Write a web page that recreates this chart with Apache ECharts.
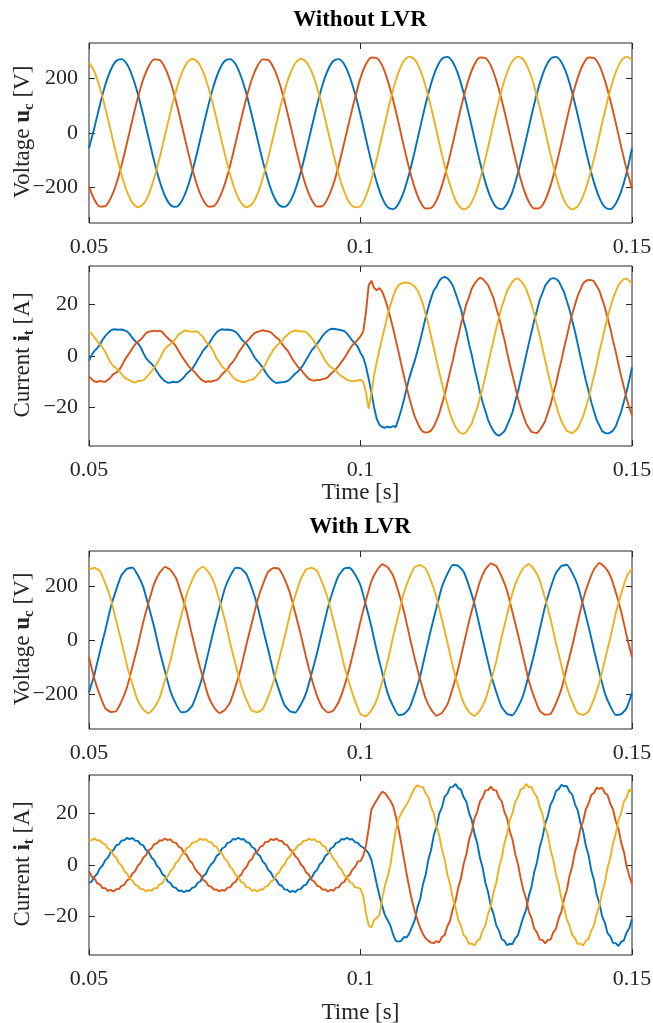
<!DOCTYPE html>
<html><head><meta charset="utf-8">
<script src="https://cdn.jsdelivr.net/npm/echarts@6/dist/echarts.min.js"></script>
<style>html,body{margin:0;padding:0;background:#fff}#c{width:653px;height:1023px}</style>
</head><body><div id="c"></div><script>
// ---------- data ----------
const T_START = 0.05, T_END = 0.15;
const STEP_V = 0.001;   // voltage samples every 1 ms
const STEP_I = 0.0005;  // current samples every 0.5 ms
const xTicks = [0.05, 0.1, 0.15];
const vTicks = [-200, 0, 200];
const iTicks = [-20, 0, 20];
const titles = ['Without LVR', 'With LVR'];

// Panel 1: voltage u_c without LVR [V]
const uNo_a = [-56,20,103,176,231,264,271,252,207,143,64,-20,-103,-176,-231,-264,-271,-252,-207,-143,
 -64,20,103,176,231,264,271,252,207,143,64,-20,-103,-176,-231,-264,-271,-252,-207,-143,
 -64,20,103,176,231,264,271,252,207,143,
 66,-21,-106,-181,-238,-272,-279,-259,-214,-147,
 -66,21,106,181,238,272,279,259,214,147,66,-21,-106,-181,-238,-272,-279,-259,-214,-147,
 -66,21,106,181,238,272,279,259,214,147,66,-21,-106,-181,-238,-272,-279,-259,-214,-147,
 -56];
const uNo_b = [-197,-245,-270,-268,-239,-188,-118,-36,49,129,197,245,270,268,239,188,118,36,-49,-129,
 -197,-245,-270,-268,-239,-188,-118,-36,49,129,197,245,270,268,239,188,118,36,-49,-129,
 -197,-245,-270,-268,-239,-188,-118,-36,49,129,
 202,252,277,275,247,193,121,38,-50,-133,
 -202,-252,-277,-275,-247,-193,-121,-38,50,133,202,252,277,275,247,193,121,38,-50,-133,
 -202,-252,-277,-275,-247,-193,-121,-38,50,133,202,252,277,275,247,193,121,38,-50,-133,
 -204];
const uNo_c = [258,225,166,92,8,-76,-153,-215,-256,-272,-261,-225,-166,-92,-8,76,153,215,256,272,
 261,225,166,92,8,-76,-153,-215,-256,-272,-261,-225,-166,-92,-8,76,153,215,256,272,
 261,225,166,92,8,-76,-153,-215,-256,-272,
 -269,-231,-171,-94,-8,79,158,222,264,280,
 269,231,171,94,8,-79,-158,-222,-264,-280,-269,-231,-171,-94,-8,79,158,222,264,280,
 269,231,171,94,8,-79,-158,-222,-264,-280,-269,-231,-171,-94,-8,79,158,222,264,280,
 267];

// Panel 2: current i_t without LVR [A]
const iNo_a = [-1.8,0.4,2.0,3.0,4.4,6.3,7.8,8.9,9.9,10.4,10.3,10.2,10.3,10.0,9.6,8.5,7.0,5.8,4.9,3.5,1.2,-0.8,-2.0,-3.0,-4.2,-6.0,-7.6,-8.9,-9.8,-10.4,-10.3,-10.0,-10.2,-10.0,-9.3,-8.2,-6.9,-5.9,-5.0,-3.4,
 -1.5,0.2,2.1,3.3,4.5,6.2,7.9,9.2,10.0,10.4,10.2,10.3,10.1,9.9,9.4,8.3,6.8,5.6,4.7,3.2,1.4,-0.6,-1.9,-3.1,-4.5,-6.3,-7.8,-9.0,-9.9,-10.5,-10.3,-10.2,-10.1,-9.8,-9.0,-7.9,-6.8,-6.0,-4.8,-3.3,
 -1.4,0.3,2.2,3.4,4.8,6.2,7.8,9.0,9.9,10.5,10.6,10.4,10.2,10.0,9.7,8.8,7.4,6.0,4.9,3.6,
 1.2,-0.5,-4.0,-8.8,-14.0,-20.0,-24.5,-26.8,-27.6,-27.9,-27.5,-27.8,-27.3,-27.6,-24.5,-21.0,-17.0,-12.5,-8.5,-5.0,-1.8,2.0,6.0,10.5,15.0,19.0,22.5,25.5,
 27.0,29.2,30.4,30.8,30.3,29.1,27.4,24.5,21.4,18.2,13.5,9.6,4.6,0.3,-4.9,-9.2,-14.0,-18.1,-21.4,-24.9,-27.3,-29.2,-30.5,-31.0,-30.2,-29.3,-27.0,-24.5,-21.8,-17.6,-13.9,-9.2,
 -4.6,0.2,4.9,9.3,13.9,17.7,21.8,24.5,27.3,28.8,30.0,30.3,30.0,29.1,27.0,24.8,21.4,18.0,13.6,9.5,4.7,-0.2,-4.9,-9.5,-13.6,-18.0,-21.5,-24.9,-27.1,-29.2,-29.9,-30.2,-29.8,-29.0,-27.4,-24.5,-21.7,-17.8,-13.8,-9.3,
 -4.4];
const iNo_b = [-7.9,-9.0,-9.9,-10.1,-9.7,-9.9,-10.0,-9.3,-8.2,-7.0,-6.5,-5.6,-3.9,-1.8,-0.2,1.3,3.0,4.6,5.5,6.3,7.6,8.9,9.5,9.6,9.9,9.6,9.9,9.4,8.0,7.0,6.0,5.2,3.8,1.9,0.2,-1.4,-2.9,-4.4,-5.3,-6.4,
 -7.6,-8.8,-9.6,-10.2,-9.8,-10.0,-9.6,-9.4,-8.5,-7.2,-6.1,-5.2,-3.4,-2.3,-0.7,1.2,2.8,4.3,5.6,6.5,7.9,8.9,9.4,9.7,10.1,9.7,9.6,9.2,8.2,7.2,6.4,4.8,3.4,2.3,0.6,-1.3,-2.8,-4.3,-5.2,-6.6,
 -7.8,-8.9,-9.4,-9.6,-9.3,-9.4,-9.0,-8.8,-8.2,-7.0,-6.1,-5.0,-3.8,-2.3,-0.9,0.8,2.6,4.2,5.2,6.4,
 7.6,9.5,17.0,27.5,29.3,26.5,25.6,26.4,25.0,22.3,18.9,15.0,10.8,6.2,1.6,-3.1,-7.8,-12.2,-16.3,-20.1,-23.6,
 -26.0,-28.2,-29.4,-29.8,-29.6,-29.0,-27.4,-25.0,-22.4,-18.7,-15.2,-10.6,-6.0,-1.8,3.3,7.6,12.4,16.1,20.3,23.1,26.2,28.1,29.5,30.5,30.0,28.8,27.6,25.0,22.5,18.7,15.2,10.6,6.4,1.4,-3.3,-7.6,-12.0,-16.5,-19.9,
 -23.3,-26.2,-28.0,-29.5,-29.8,-30.0,-28.8,-27.2,-25.4,-22.1,-19.0,-14.8,-10.9,-6.0,-1.7,3.2,7.6,12.3,16.4,19.9,23.4,25.8,28.2,29.2,29.6,29.5,29.1,27.2,25.4,22.1,19.0,14.8,10.9,6.0,1.7,-3.2,-7.9,-12.0,-16.4,-20.0,
 -23.0];
const iNo_c = [9.6,8.6,7.2,5.9,4.6,3.2,1.6,-0.6,-2.6,-4.0,-4.8,-5.6,-7.0,-8.3,-9.0,-9.4,-10.1,-10.3,-9.8,-9.6,-9.5,-8.4,-7.2,-6.0,-4.6,-3.0,-1.2,1.0,2.8,3.9,4.6,5.4,7.0,8.3,9.0,9.8,9.9,9.6,9.4,9.6,
 9.5,8.4,7.4,5.6,4.4,3.4,1.4,-0.9,-2.4,-4.1,-5.0,-5.4,-6.8,-8.2,-9.2,-9.6,-10.0,-10.2,-9.9,-9.4,-9.3,-8.6,-7.4,-6.2,-4.8,-3.2,-1.0,0.8,2.6,3.8,4.8,5.6,7.2,8.2,9.1,9.6,10.0,9.7,9.5,9.6,
 9.4,8.2,7.0,5.6,3.8,2.0,0.2,-1.8,-3.2,-4.4,-4.9,-5.8,-7.0,-7.8,-8.4,-9.2,-9.6,-9.8,-9.7,-9.5,
 -9.2,-10.0,-14.0,-20.5,-14.5,-7.5,-2.3,2.5,7.0,11.5,16.0,19.7,23.0,25.8,27.5,28.2,28.5,28.6,28.3,27.8,27.0,25.5,
 23.0,20.3,16.1,12.4,7.6,3.0,-1.7,-6.3,-10.6,-15.1,-18.7,-22.5,-25.3,-27.6,-29.1,-30.0,-30.3,-29.5,-27.8,-26.2,-23.0,-20.2,-16.1,-12.3,-7.9,-3.2,1.7,6.1,10.9,14.8,19.1,22.1,25.4,27.2,29.0,29.9,30.2,29.2,
 28.0,26.1,23.2,20.0,16.4,12.1,7.9,3.0,-1.5,-6.3,-10.7,-15.1,-18.8,-22.4,-25.3,-27.3,-29.1,-29.6,-30.0,-29.2,-28.1,-25.9,-23.4,-20.0,-16.4,-12.1,-7.8,-3.2,1.7,6.1,10.9,15.0,18.8,22.4,25.1,27.5,28.9,29.9,30.1,29.2,
 28.2];

// Panel 3: voltage u_c with LVR [V]
const uLvr_a = [-194,-128,-44,36,121,186,241,264,269,240,196,124,48,-40,-117,-190,-237,-268,-265,-244,
 -192,-129,-45,40,117,190,237,268,265,244,192,128,44,-36,-121,-186,-241,-264,-269,-240,
 -196,-124,-48,37,120,187,240,265,268,243,
 203,129,50,-41,-121,-197,-245,-278,-275,-253,
 -199,-133,-46,41,121,197,245,278,275,253,199,133,46,-41,-125,-193,-249,-274,-279,-249,
 -203,-129,-50,37,125,193,249,274,279,249,203,129,50,-37,-121,-197,-245,-278,-275,-253,
 -196];
const uLvr_b = [-64,-145,-205,-253,-267,-264,-227,-175,-99,-20,68,141,209,249,271,260,231,171,103,16,
 -68,-141,-209,-249,-271,-260,-231,-171,-103,-16,64,145,205,253,267,264,227,175,99,20,
 -66,-143,-207,-251,-269,-262,-229,-173,-101,-18,
 70,147,217,258,281,270,239,178,106,17,
 -70,-147,-217,-258,-281,-270,-239,-178,-106,-17,70,147,217,262,284,274,235,182,102,21,
 -66,-151,-213,-262,-277,-274,-235,-182,-102,-21,66,151,213,262,286,270,239,178,106,17,
 -64];
const uLvr_c = [262,268,256,210,153,72,-8,-95,-165,-226,-258,-272,-252,-214,-149,-76,12,91,169,222,
 258,272,252,214,149,76,-12,-91,-169,-222,-262,-268,-256,-210,-153,-72,8,95,165,226,
 262,268,256,210,153,72,-8,-95,-165,-226,
 -275,-283,-261,-222,-154,-79,12,94,175,230,
 271,278,265,218,158,75,-8,-98,-171,-234,-267,-282,-261,-222,-154,-79,12,94,175,230,
 267,282,261,222,154,79,-12,-94,-175,-230,-271,-278,-265,-218,-158,-75,8,98,171,234,
 266];

// Panel 4: current i_t with LVR [A]
const iLvr_a = [-7.0,-6.4,-4.5,-3.5,-1.3,-0.2,1.9,2.9,5.0,5.8,7.6,8.0,9.5,9.6,10.5,10.1,10.5,9.5,9.4,8.0,7.6,5.8,5.0,2.9,1.9,-0.3,-1.3,-3.5,-4.4,-6.4,-7.0,-8.6,-8.9,-10.1,-9.9,-10.6,-9.9,-10.1,-8.9,-8.6,
 -7.0,-6.4,-4.4,-3.5,-1.3,0.3,1.3,3.5,4.4,6.4,7.0,8.6,8.9,10.1,9.9,10.6,9.9,10.1,8.9,8.6,7.0,6.4,4.4,3.5,1.3,0.3,-1.9,-2.9,-5.0,-5.8,-7.6,-8.0,-9.5,-9.6,-10.5,-10.1,-10.5,-9.5,-9.4,-8.0,
 -7.6,-5.8,-5.0,-2.9,-1.9,0.3,1.3,3.5,4.4,6.4,7.0,8.6,8.9,10.1,9.9,10.6,9.9,10.1,8.9,8.6,
 7.4,6.8,5.8,4.5,2.0,-2.5,-7.5,-12.0,-16.0,-19.5,-21.5,-23.5,-27.0,-29.5,-29.8,-29.5,-28.0,-28.2,-26.5,-24.0,
 -21.4,-16.4,-13.2,-7.5,-3.8,2.1,5.8,11.6,14.9,20.0,22.4,26.5,27.8,30.3,30.4,31.5,29.9,29.3,26.3,24.6,20.2,17.4,12.0,8.5,2.7,-1.1,-6.9,-10.6,-16.0,-19.0,-23.5,-25.5,-28.8,-29.5,-31.2,-30.6,-30.7,-28.5,-27.3,-23.6,
 -20.2,-17.4,-12.0,-8.5,-2.7,1.1,6.9,10.6,16.0,19.0,23.5,25.5,28.8,29.5,31.2,30.6,30.7,28.5,27.3,23.6,21.2,16.4,13.2,7.5,3.8,-2.1,-5.8,-11.6,-14.9,-20.0,-22.4,-26.5,-27.8,-30.3,-30.4,-31.5,-29.9,-29.3,-26.3,-24.6,
 -21.0];
const iLvr_b = [-2.4,-4.5,-5.1,-7.1,-7.5,-9.0,-9.0,-10.1,-9.7,-10.3,-9.4,-9.4,-8.1,-7.7,-6.0,-5.3,-3.3,-2.4,-0.2,0.8,2.9,3.8,5.8,6.4,8.1,8.4,9.6,9.5,10.3,9.7,10.0,8.8,8.7,7.1,6.6,4.7,3.9,1.8,0.8,-1.4,
 -2.8,-3.8,-5.8,-6.4,-8.1,-8.4,-9.6,-9.5,-10.3,-9.7,-10.0,-8.8,-8.7,-7.1,-6.6,-4.7,-3.9,-1.8,-0.8,1.4,2.3,4.4,5.2,7.0,7.5,9.0,9.0,10.1,9.7,10.3,9.4,9.4,8.1,7.7,6.0,5.3,3.3,2.4,0.2,-0.8,
 -2.9,-3.8,-5.8,-6.4,-8.1,-8.4,-9.6,-9.5,-10.3,-9.7,-10.0,-8.8,-8.7,-7.1,-6.6,-4.7,-3.9,-1.8,-0.8,1.4,
 1.5,3.5,7.5,14.0,21.5,23.5,25.2,27.0,28.5,28.0,26.5,25.0,23.0,19.0,14.0,8.5,2.5,-3.5,-9.0,-14.0,-18.0,-21.5,-24.5,-26.8,-28.5,-29.5,-30.2,-30.4,
 -29.6,-30.1,-28.0,-27.2,-23.8,-21.7,-17.1,-14.1,-8.8,-5.2,0.5,4.2,9.8,13.1,18.1,20.7,24.8,26.2,29.0,29.1,30.5,29.1,29.0,26.2,24.8,20.7,18.1,13.1,9.8,4.2,0.5,-5.2,
 -9.8,-13.1,-18.1,-20.7,-24.8,-26.2,-29.0,-29.1,-30.5,-29.1,-29.0,-26.2,-24.8,-20.7,-18.1,-13.1,-9.8,-4.2,-0.5,5.2,8.8,14.1,17.1,21.7,23.8,27.2,28.0,30.1,29.6,30.1,28.0,27.2,23.8,21.7,17.1,14.1,8.8,5.2,-0.5,-4.2,
 -7.5];
const iLvr_c = [9.9,9.6,10.4,9.5,9.6,8.4,8.1,6.4,5.8,3.8,2.9,0.8,-0.2,-2.4,-3.3,-5.3,-6.0,-7.7,-8.1,-9.4,-9.4,-10.3,-9.7,-10.1,-9.0,-9.0,-7.5,-7.1,-5.1,-4.5,-2.4,-1.4,0.8,1.8,3.9,4.7,6.6,7.1,8.7,8.8,
 9.4,10.3,9.7,10.1,9.0,9.0,7.5,7.1,5.1,4.5,2.4,1.4,-0.8,-1.8,-3.9,-4.7,-6.6,-7.1,-8.7,-8.8,-10.0,-9.7,-10.3,-9.5,-9.6,-8.4,-8.1,-6.4,-5.8,-3.8,-2.9,-0.8,0.2,2.4,3.3,5.3,6.0,7.7,8.1,9.4,
 9.4,10.3,9.7,10.1,9.0,9.0,7.5,7.1,5.1,4.5,2.4,1.4,-0.8,-1.8,-3.9,-4.7,-6.6,-7.1,-8.7,-8.8,
 -9.3,-12.0,-18.5,-23.5,-24.3,-21.5,-20.5,-19.5,-13.0,-8.0,-4.5,0.0,7.0,13.5,18.0,20.0,22.0,23.5,25.5,28.0,30.0,31.0,
 30.4,30.3,27.8,26.5,22.5,20.0,15.0,11.6,5.9,2.1,-3.7,-7.5,-13.1,-16.4,-21.2,-23.6,-27.3,-28.4,-30.8,-30.5,-31.3,-29.4,-28.8,-25.5,-23.5,-19.0,-16.0,-10.6,-6.9,-1.1,2.7,8.5,12.1,17.4,20.2,24.6,26.3,29.4,
 29.8,31.5,30.3,30.4,27.8,26.5,22.5,20.0,15.0,11.6,5.9,2.1,-3.7,-7.5,-13.1,-16.4,-21.2,-23.6,-27.3,-28.4,-30.8,-30.5,-31.3,-29.4,-28.8,-25.5,-23.5,-19.0,-16.0,-10.6,-6.9,-1.1,2.7,8.5,12.1,17.4,20.2,24.6,26.3,29.4,
 28.5];

// ---------- styling / layout ----------
const COLORS = ['#0072BD', '#D95319', '#EDB120'];
const AX = '#262626';
const FONT = '"Liberation Serif", "Times New Roman", serif';
const FS = 22;   // tick labels
const FN = 23;   // axis names

const grids = [
  {left: 89, top: 43, width: 543, height: 180},
  {left: 89, top: 266, width: 543, height: 180},
  {left: 89, top: 551, width: 543, height: 178},
  {left: 89, top: 775, width: 543, height: 180}
];
const panels = [
  {series: [uNo_a, uNo_b, uNo_c], step: STEP_V, smooth: 0.25, lim: 330, ticks: vTicks, name: '{n|Voltage }{b|u}{s|c}{n| [V]}', xName: ''},
  {series: [iNo_a, iNo_b, iNo_c], step: STEP_I, smooth: false, lim: 35, ticks: iTicks, name: '{n|Current }{b|i}{s|t}{n| [A]}', xName: 'Time [s]', xGap: 34},
  {series: [uLvr_a, uLvr_b, uLvr_c], step: STEP_V, smooth: 0.12, lim: 330, ticks: vTicks, name: '{n|Voltage }{b|u}{s|c}{n| [V]}', xName: ''},
  {series: [iLvr_a, iLvr_b, iLvr_c], step: STEP_I, smooth: false, lim: 35, ticks: iTicks, name: '{n|Current }{b|i}{s|t}{n| [A]}', xName: 'Time [s]', xGap: 46}
];

const tickStyle = {show: true, inside: true, length: 6, lineStyle: {color: AX, width: 1}};
const labelStyle = {fontFamily: FONT, fontSize: FS, color: AX};
const richName = {
  n: {fontFamily: FONT, fontSize: FN, fill: AX, lineHeight: 28},
  b: {fontFamily: FONT, fontSize: FN, fontWeight: 'bold', fill: AX, lineHeight: 28},
  s: {fontFamily: FONT, fontSize: 15, fontWeight: 'bold', fill: AX, lineHeight: 15, verticalAlign: 'bottom'}
};

const xAxis = [], yAxis = [], series = [], graphic = [];
panels.forEach((p, g) => {
  const gr = grids[g];
  xAxis.push({
    gridIndex: g, type: 'value', min: T_START, max: T_END, interval: 0.05, position: 'bottom',
    axisLine: {show: false, onZero: false}, axisTick: tickStyle, splitLine: {show: false},
    axisLabel: Object.assign({margin: 13, formatter: v => String(Math.round(v * 100) / 100)}, labelStyle),
    name: p.xName, nameLocation: 'middle', nameGap: p.xGap || 30,
    nameTextStyle: {fontFamily: FONT, fontSize: FN, color: AX}
  });
  xAxis.push({
    gridIndex: g, type: 'value', min: T_START, max: T_END, interval: 0.05, position: 'top',
    axisLine: {show: false, onZero: false}, axisTick: tickStyle, axisLabel: {show: false}, splitLine: {show: false}
  });
  yAxis.push({
    gridIndex: g, type: 'value', min: -p.lim, max: p.lim, position: 'left',
    axisLine: {show: false, onZero: false}, splitLine: {show: false},
    axisTick: Object.assign({customValues: p.ticks}, tickStyle),
    axisLabel: Object.assign({customValues: p.ticks, margin: 11,
      formatter: v => (v < 0 ? '\u2212' + Math.abs(v) : String(v))}, labelStyle)
  });
  yAxis.push({
    gridIndex: g, type: 'value', min: -p.lim, max: p.lim, position: 'right',
    axisLine: {show: false, onZero: false}, splitLine: {show: false},
    axisTick: Object.assign({customValues: p.ticks}, tickStyle),
    axisLabel: {show: false}
  });
  graphic.push({
    type: 'text', x: 23, y: gr.top + gr.height / 2 - 1, rotation: Math.PI / 2,
    style: {text: p.name, rich: richName, align: 'center', verticalAlign: 'middle',
      fontFamily: FONT, fontSize: FN, fill: AX}
  });
  p.series.forEach((arr, k) => {
    series.push({
      type: 'line', xAxisIndex: 2 * g, yAxisIndex: 2 * g, showSymbol: false, symbol: 'none',
      smooth: p.smooth,
      lineStyle: {color: COLORS[k], width: 1.9}, itemStyle: {color: COLORS[k]},
      data: arr.map((v, i) => [T_START + i * p.step, v]),
      animation: false, silent: true
    });
  });
});
graphic.push(
  {type: 'text', x: 360, y: 20, style: {text: titles[0], fill: '#000', font: 'bold 23px ' + FONT, align: 'center', verticalAlign: 'middle'}},
  {type: 'text', x: 360, y: 527, style: {text: titles[1], fill: '#000', font: 'bold 23px ' + FONT, align: 'center', verticalAlign: 'middle'}}
);

const chart = echarts.init(document.getElementById('c'), null, {renderer: 'canvas'});
chart.setOption({
  animation: false,
  backgroundColor: '#fff',
  grid: grids.map(gr => Object.assign({show: true, borderColor: AX, borderWidth: 1, backgroundColor: 'transparent',
    containLabel: false, outerBoundsMode: 'none'}, gr)),
  xAxis, yAxis, series, graphic
});
</script></body></html>
